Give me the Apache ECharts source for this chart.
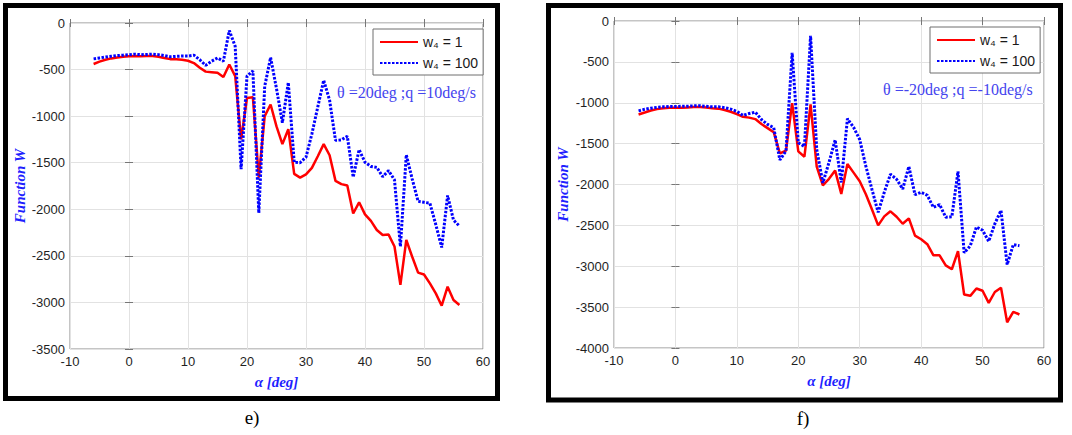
<!DOCTYPE html>
<html><head><meta charset="utf-8">
<script src="https://cdn.jsdelivr.net/npm/echarts@6/dist/echarts.min.js"></script>
<style>html,body{margin:0;padding:0;background:#fff}#c{width:1072px;height:435px}</style>
</head><body><div id="c"></div>
<script>
// angle of attack values (deg)
const alpha = [-6,-5,-4,-3,-2,-1,0,1,2,3,4,5,6,7,8,9,10,11,12,13,14,15,16,17,18,19,20,21,22,23,24,25,26,27,28,29,30,31,32,33,34,35,36,37,38,39,40,41,42,43,44,45,46,47,48,49,50,51,52,53,54,55,56];

// panel e) theta = 20 deg, q = 10 deg/s
const e_w1 = [-440,-415,-395,-380,-370,-362,-358,-355,-357,-355,-355,-362,-375,-388,-390,-395,-405,-430,-480,-522,-528,-535,-580,-445,-570,-1250,-805,-798,-1660,-1000,-875,-1110,-1300,-1140,-1620,-1660,-1625,-1555,-1430,-1300,-1420,-1695,-1730,-1745,-2045,-1925,-2055,-2125,-2222,-2276,-2272,-2400,-2812,-2330,-2510,-2680,-2700,-2796,-2903,-3035,-2831,-2974,-3028];
const e_w100 = [-385,-375,-365,-357,-350,-345,-340,-335,-340,-338,-335,-340,-350,-362,-358,-355,-355,-345,-395,-455,-410,-375,-410,-80,-250,-1570,-570,-515,-2040,-680,-370,-705,-1070,-640,-1495,-1500,-1440,-1190,-900,-615,-830,-1260,-1255,-1215,-1655,-1360,-1495,-1540,-1550,-1650,-1585,-1685,-2400,-1415,-1675,-1915,-1925,-1935,-2165,-2410,-1852,-2116,-2180];

// panel f) theta = -20 deg, q = -10 deg/s
const f_w1 = [-1143,-1120,-1095,-1078,-1068,-1062,-1060,-1060,-1057,-1053,-1052,-1058,-1068,-1072,-1088,-1110,-1140,-1172,-1182,-1200,-1260,-1310,-1360,-1620,-1585,-1005,-1595,-1660,-1020,-1780,-2010,-1930,-1830,-2115,-1750,-1855,-1960,-2120,-2305,-2500,-2390,-2328,-2395,-2480,-2415,-2625,-2670,-2730,-2866,-2866,-2990,-3037,-2815,-3345,-3362,-3272,-3300,-3448,-3315,-3262,-3685,-3557,-3590];
const f_w100 = [-1100,-1080,-1066,-1056,-1050,-1046,-1045,-1044,-1042,-1038,-1036,-1044,-1050,-1050,-1060,-1078,-1105,-1155,-1132,-1115,-1205,-1265,-1305,-1700,-1590,-390,-1490,-1535,-180,-1570,-1980,-1730,-1455,-1975,-1195,-1300,-1450,-1776,-2062,-2340,-2095,-1875,-1935,-2055,-1780,-2125,-2095,-2132,-2280,-2245,-2400,-2395,-1840,-2835,-2750,-2520,-2560,-2695,-2480,-2318,-2980,-2735,-2748];

const seriesNames = ['w\u2084 = 1', 'w\u2084 = 100'];
const xRange = {min: -10, max: 60, interval: 10};
const yRangeE = {min: -3500, max: 0, interval: 500};
const yRangeF = {min: -4000, max: 0, interval: 500};
const xName = '\u03b1 [deg]';
const yName = 'Function W';
const noteE = '\u03b8 =20deg ;q =10deg/s';
const noteF = '\u03b8 =-20deg ;q =-10deg/s';
const captions = ['e)', 'f)'];

const pair = (ys) => alpha.map((a, i) => [a, ys[i]]);

const tickFont = {fontFamily: 'Liberation Sans, Arial, sans-serif', fontSize: 13, color: '#1f1f1f', formatter: (v) => String(v)};
const nameFont = {fontFamily: 'Liberation Serif, Times New Roman, serif', fontSize: 15, fontWeight: 'bold', fontStyle: 'italic', color: '#1f1fff'};

function mainX(gi, gap) {
  return Object.assign({gridIndex: gi, type: 'value', position: 'bottom',
    axisLine: {show: false}, axisTick: {show: true, inside: true, length: 4, lineStyle: {color: '#777'}},
    axisLabel: Object.assign({margin: 6}, tickFont),
    splitLine: {show: true, lineStyle: {color: '#e2e2e2', width: 1}},
    name: xName, nameLocation: 'middle', nameGap: gap, nameTextStyle: nameFont}, xRange);
}
function topX(gi) {
  return Object.assign({gridIndex: gi, type: 'value', position: 'top',
    axisLine: {show: false}, axisTick: {show: true, inside: true, length: 4, lineStyle: {color: '#777'}},
    axisLabel: {show: false}, splitLine: {show: false}}, xRange);
}
function mainY(gi, range, gap) {
  return Object.assign({gridIndex: gi, type: 'value', position: 'left',
    axisLine: {show: false}, axisTick: {show: true, inside: true, length: 4, lineStyle: {color: '#777'}},
    axisLabel: Object.assign({margin: 5}, tickFont),
    splitLine: {show: true, lineStyle: {color: '#e2e2e2', width: 1}},
    name: yName, nameLocation: 'middle', nameGap: gap, nameTextStyle: nameFont}, range);
}
function rightY(gi, range) {
  return Object.assign({gridIndex: gi, type: 'value', position: 'right',
    axisLine: {show: false}, axisTick: {show: true, inside: true, length: 4, lineStyle: {color: '#777'}},
    axisLabel: {show: false}, splitLine: {show: false}}, range);
}
function legendAt(left, top) {
  return {left: left, top: top, orient: 'vertical', data: seriesNames,
    backgroundColor: '#fff', borderColor: '#6f6f6f', borderWidth: 1,
    padding: [6, 5, 5, 6], itemGap: 7, itemWidth: 38, itemHeight: 14,
    itemStyle: {opacity: 0},
    textStyle: {fontFamily: 'Liberation Sans, Arial, sans-serif', fontSize: 14, color: '#1a1a1a'},
    selectedMode: false};
}
function red(xi, yi, data) {
  return {name: seriesNames[0], type: 'line', xAxisIndex: xi, yAxisIndex: yi, data: pair(data),
    symbol: 'none', lineStyle: {color: '#ff0000', width: 2.5, type: 'solid'}, itemStyle: {color: '#ff0000'}, z: 3, animation: false};
}
function blue(xi, yi, data) {
  return {name: seriesNames[1], type: 'line', xAxisIndex: xi, yAxisIndex: yi, data: pair(data),
    symbol: 'none', lineStyle: {color: '#0000ff', width: 3, type: [2.5, 1.5]}, itemStyle: {color: '#0000ff'}, z: 4, animation: false};
}

const chart = echarts.init(document.getElementById('c'), null, {renderer: 'svg'});
chart.setOption({
  backgroundColor: '#fff',
  animation: false,
  grid: [
    {left: 70, top: 23, width: 413, height: 326, show: true, borderColor: '#8a8a8a', borderWidth: 1, backgroundColor: '#fff', outerBoundsMode: 'none'},
    {left: 614, top: 21, width: 430, height: 327, show: true, borderColor: '#8a8a8a', borderWidth: 1, backgroundColor: '#fff', outerBoundsMode: 'none'}
  ],
  xAxis: [mainX(0, 25), topX(0), mainX(1, 25), topX(1)],
  yAxis: [mainY(0, yRangeE, 43), rightY(0, yRangeE), mainY(1, yRangeF, 44), rightY(1, yRangeF)],
  legend: [legendAt(373, 29), legendAt(930, 27)],
  series: [red(0, 0, e_w1), blue(0, 0, e_w100), red(2, 2, f_w1), blue(2, 2, f_w100)],
  graphic: [
    {type: 'rect', shape: {x: 5.5, y: 5.5, width: 492, height: 393}, style: {fill: 'none', stroke: '#000', lineWidth: 5}, z: 100},
    {type: 'rect', shape: {x: 548.5, y: 5.5, width: 512, height: 394.5}, style: {fill: 'none', stroke: '#000', lineWidth: 5}, z: 100},
    {type: 'text', left: 337, top: 84, style: {text: noteE, font: '16px "Liberation Serif", "Times New Roman", serif', fill: '#4444ee'}, z: 100},
    {type: 'text', left: 883, top: 81, style: {text: noteF, font: '16px "Liberation Serif", "Times New Roman", serif', fill: '#4444ee'}, z: 100},
    {type: 'text', x: 252, y: 417, style: {text: captions[0], font: '19px "Liberation Serif", "Times New Roman", serif', fill: '#000', align: 'center', verticalAlign: 'middle'}, z: 100},
    {type: 'text', x: 803, y: 418, style: {text: captions[1], font: '19px "Liberation Serif", "Times New Roman", serif', fill: '#000', align: 'center', verticalAlign: 'middle'}, z: 100}
  ]
});
</script></body></html>
